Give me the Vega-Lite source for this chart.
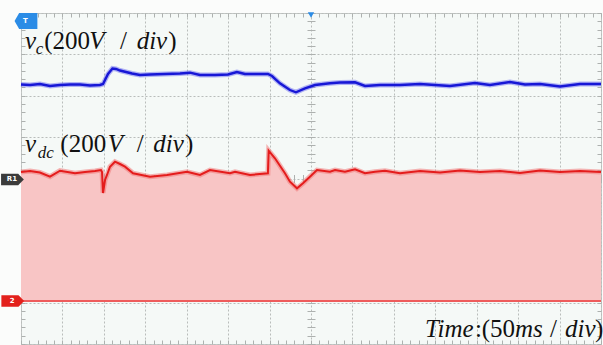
{
  "$schema": "https://vega.github.io/schema/vega-lite/v6.json",
  "width": 580,
  "height": 331,
  "autosize": "none",
  "padding": {"left": 21, "top": 13, "right": 2, "bottom": 1},
  "background": "#fbfcfb",
  "config": {
    "view": {"stroke": "#c4c8c6", "strokeWidth": 1, "fill": "#f5f9f7"},
    "axis": {"grid": false, "labels": false, "ticks": false, "domain": false, "title": null}
  },
  "datasets": {
    "vc": [
      {"t": 0, "v": 6.272}, {"t": 10.9, "v": 6.260}, {"t": 22.9, "v": 6.284}, {"t": 35.0, "v": 6.236},
      {"t": 47.1, "v": 6.260}, {"t": 59.1, "v": 6.272}, {"t": 71.2, "v": 6.272}, {"t": 83.3, "v": 6.248},
      {"t": 95.3, "v": 6.260}, {"t": 99.0, "v": 6.284}, {"t": 105.0, "v": 6.526}, {"t": 110.4, "v": 6.659},
      {"t": 114.7, "v": 6.647}, {"t": 119.5, "v": 6.610}, {"t": 125.5, "v": 6.581}, {"t": 134.0, "v": 6.538},
      {"t": 143.6, "v": 6.501}, {"t": 155.7, "v": 6.514}, {"t": 173.8, "v": 6.526}, {"t": 191.9, "v": 6.538},
      {"t": 204.0, "v": 6.557}, {"t": 216.0, "v": 6.501}, {"t": 234.1, "v": 6.501}, {"t": 249.8, "v": 6.514},
      {"t": 260.6, "v": 6.574}, {"t": 270.3, "v": 6.526}, {"t": 282.3, "v": 6.526}, {"t": 298.0, "v": 6.526},
      {"t": 302.9, "v": 6.477}, {"t": 312.5, "v": 6.301}, {"t": 324.6, "v": 6.139}, {"t": 331.8, "v": 6.083},
      {"t": 342.8, "v": 6.180}, {"t": 354.8, "v": 6.260}, {"t": 372.9, "v": 6.301}, {"t": 385.0, "v": 6.320},
      {"t": 403.1, "v": 6.325}, {"t": 415.2, "v": 6.236}, {"t": 433.3, "v": 6.260}, {"t": 457.4, "v": 6.260},
      {"t": 481.5, "v": 6.284}, {"t": 499.7, "v": 6.260}, {"t": 517.7, "v": 6.236}, {"t": 547.9, "v": 6.308},
      {"t": 566.0, "v": 6.260}, {"t": 590.2, "v": 6.332}, {"t": 608.3, "v": 6.272}, {"t": 626.4, "v": 6.284},
      {"t": 650.5, "v": 6.224}, {"t": 674.7, "v": 6.284}, {"t": 700, "v": 6.284}
    ],
    "vdc": [
      {"t": 0, "v": 4.157}, {"t": 10.9, "v": 4.181}, {"t": 22.9, "v": 4.145}, {"t": 35.0, "v": 4.044},
      {"t": 47.1, "v": 4.189}, {"t": 65.2, "v": 4.126}, {"t": 77.2, "v": 4.157}, {"t": 89.3, "v": 4.181},
      {"t": 96.5, "v": 4.205}, {"t": 97.8, "v": 4.157}, {"t": 99.0, "v": 3.650}, {"t": 101.4, "v": 3.964},
      {"t": 103.8, "v": 4.085}, {"t": 107.4, "v": 4.285}, {"t": 113.4, "v": 4.406}, {"t": 119.5, "v": 4.350},
      {"t": 125.5, "v": 4.285}, {"t": 135.2, "v": 4.126}, {"t": 155.7, "v": 4.044}, {"t": 176.2, "v": 4.085},
      {"t": 200.3, "v": 4.164}, {"t": 216.0, "v": 4.085}, {"t": 228.1, "v": 4.205}, {"t": 252.2, "v": 4.126},
      {"t": 258.3, "v": 4.164}, {"t": 276.4, "v": 4.085}, {"t": 298.0, "v": 4.126}, {"t": 298.9, "v": 4.672},
      {"t": 306.5, "v": 4.488}, {"t": 318.6, "v": 4.126}, {"t": 324.6, "v": 3.923}, {"t": 333.1, "v": 3.763},
      {"t": 340.3, "v": 3.884}, {"t": 348.7, "v": 4.044}, {"t": 357.2, "v": 4.205}, {"t": 372.9, "v": 4.164},
      {"t": 379.0, "v": 4.205}, {"t": 391.0, "v": 4.164}, {"t": 403.1, "v": 4.222}, {"t": 415.2, "v": 4.126},
      {"t": 427.2, "v": 4.164}, {"t": 439.3, "v": 4.189}, {"t": 457.4, "v": 4.126}, {"t": 481.5, "v": 4.181},
      {"t": 505.7, "v": 4.145}, {"t": 529.8, "v": 4.193}, {"t": 553.9, "v": 4.157}, {"t": 578.1, "v": 4.181},
      {"t": 602.2, "v": 4.133}, {"t": 626.4, "v": 4.193}, {"t": 650.5, "v": 4.157}, {"t": 674.7, "v": 4.181},
      {"t": 700, "v": 4.157}
    ]
  },
  "resolve": {"axis": {"x": "independent", "y": "independent"}},
  "layer": [
    {
      "data": {"name": "vdc"},
      "mark": {"type": "area", "color": "#f8c5c5", "opacity": 1},
      "encoding": {
        "x": {"field": "t", "type": "quantitative", "scale": {"domain": [0, 700], "nice": false, "zero": false},
          "axis": {"orient": "bottom", "grid": true, "gridColor": "#b9bdbb", "gridDash": [2, 2], "gridWidth": 1,
            "values": [0, 50, 100, 150, 200, 250, 300, 350, 400, 450, 500, 550, 600, 650, 700]}},
        "y": {"field": "v", "type": "quantitative", "scale": {"domain": [0, 8], "nice": false, "zero": false},
          "axis": {"orient": "left", "grid": true, "gridColor": "#b9bdbb", "gridDash": [2, 2], "gridWidth": 1,
            "values": [0, 1, 2, 3, 4, 5, 6, 7, 8]}},
        "y2": {"datum": 1.04}
      }
    },
    {
      "data": {"values": [{"level": 1.04}]},
      "mark": {"type": "rule", "color": "#ee5c5c", "strokeWidth": 2},
      "encoding": {
        "y": {"field": "level", "type": "quantitative", "axis": null}
      }
    },
    {
      "data": {"name": "vdc"},
      "mark": {"type": "line", "color": "#f07a7a", "strokeWidth": 5, "opacity": 0.55},
      "encoding": {
        "x": {"field": "t", "type": "quantitative", "axis": null},
        "y": {"field": "v", "type": "quantitative", "axis": null}
      }
    },
    {
      "data": {"name": "vdc"},
      "mark": {"type": "line", "color": "#e41c1c", "strokeWidth": 2},
      "encoding": {
        "x": {"field": "t", "type": "quantitative",
          "axis": {"orient": "bottom", "offset": -4, "ticks": true, "tickSize": 4, "tickColor": "#adb1af",
            "values": [0,10,20,30,40,50,60,70,80,90,100,110,120,130,140,150,160,170,180,190,200,210,220,230,240,250,260,270,280,290,300,310,320,330,340,350,360,370,380,390,400,410,420,430,440,450,460,470,480,490,500,510,520,530,540,550,560,570,580,590,600,610,620,630,640,650,660,670,680,690,700]}},
        "y": {"field": "v", "type": "quantitative",
          "axis": {"orient": "right", "offset": -4, "ticks": true, "tickSize": 4, "tickColor": "#adb1af",
            "values": [0,0.2,0.4,0.6,0.8,1,1.2,1.4,1.6,1.8,2,2.2,2.4,2.6,2.8,3,3.2,3.4,3.6,3.8,4,4.2,4.4,4.6,4.8,5,5.2,5.4,5.6,5.8,6,6.2,6.4,6.6,6.8,7,7.2,7.4,7.6,7.8,8]}}
      }
    },
    {
      "data": {"name": "vc"},
      "mark": {"type": "line", "color": "#6b6bf2", "strokeWidth": 5, "opacity": 0.5},
      "encoding": {
        "x": {"field": "t", "type": "quantitative", "axis": null},
        "y": {"field": "v", "type": "quantitative", "axis": null}
      }
    },
    {
      "data": {"name": "vc"},
      "mark": {"type": "line", "color": "#1717d6", "strokeWidth": 2.4},
      "encoding": {
        "x": {"field": "t", "type": "quantitative",
          "axis": {"orient": "top", "offset": -4, "ticks": true, "tickSize": 4, "tickColor": "#adb1af",
            "values": [0,10,20,30,40,50,60,70,80,90,100,110,120,130,140,150,160,170,180,190,200,210,220,230,240,250,260,270,280,290,300,310,320,330,340,350,360,370,380,390,400,410,420,430,440,450,460,470,480,490,500,510,520,530,540,550,560,570,580,590,600,610,620,630,640,650,660,670,680,690,700]}},
        "y": {"field": "v", "type": "quantitative",
          "axis": {"orient": "left", "offset": -4, "ticks": true, "tickSize": 4, "tickColor": "#adb1af",
            "values": [0,0.2,0.4,0.6,0.8,1,1.2,1.4,1.6,1.8,2,2.2,2.4,2.6,2.8,3,3.2,3.4,3.6,3.8,4,4.2,4.4,4.6,4.8,5,5.2,5.4,5.6,5.8,6,6.2,6.4,6.6,6.8,7,7.2,7.4,7.6,7.8,8]}}
      }
    },
    {
      "data": {"values": [
        {"s": "v", "t": 4.8, "v": 7.123}, {"s": "V", "t": 82.5, "v": 7.123}, {"s": "div", "t": 139.6, "v": 7.123},
        {"s": "v", "t": 4.8, "v": 4.648}, {"s": "V", "t": 104.6, "v": 4.648}, {"s": "div", "t": 159.7, "v": 4.648},
        {"s": "Time", "t": 487.6, "v": 0.177}, {"s": "ms", "t": 596.2, "v": 0.177}, {"s": "div", "t": 656.5, "v": 0.177}
      ]},
      "mark": {"type": "text", "font": "Liberation Serif", "fontStyle": "italic", "fontSize": 25, "align": "left", "baseline": "alphabetic", "color": "#111111"},
      "encoding": {
        "x": {"field": "t", "type": "quantitative",
          "axis": {"orient": "bottom", "offset": -169.5, "ticks": true, "tickSize": 8, "tickColor": "#adb1af",
            "values": [0,10,20,30,40,50,60,70,80,90,100,110,120,130,140,150,160,170,180,190,200,210,220,230,240,250,260,270,280,290,300,310,320,330,340,350,360,370,380,390,400,410,420,430,440,450,460,470,480,490,500,510,520,530,540,550,560,570,580,590,600,610,620,630,640,650,660,670,680,690,700]}},
        "y": {"field": "v", "type": "quantitative",
          "axis": {"orient": "left", "offset": -294, "ticks": true, "tickSize": 8, "tickColor": "#adb1af",
            "values": [0,0.2,0.4,0.6,0.8,1,1.2,1.4,1.6,1.8,2,2.2,2.4,2.6,2.8,3,3.2,3.4,3.6,3.8,4,4.2,4.4,4.6,4.8,5,5.2,5.4,5.6,5.8,6,6.2,6.4,6.6,6.8,7,7.2,7.4,7.6,7.8,8]}},
        "text": {"field": "s"}
      }
    },
    {
      "data": {"values": [
        {"s": "(200", "t": 28.1, "v": 7.123}, {"s": "/", "t": 119.5, "v": 7.123}, {"s": ")", "t": 177.8, "v": 7.123},
        {"s": "(200", "t": 47.5, "v": 4.648}, {"s": "/", "t": 139.6, "v": 4.648}, {"s": ")", "t": 197.9, "v": 4.648},
        {"s": ":", "t": 547.9, "v": 0.177}, {"s": "(50", "t": 556.0, "v": 0.177}, {"s": "/", "t": 638.4, "v": 0.177},
        {"s": ")", "t": 692.8, "v": 0.177}
      ]},
      "mark": {"type": "text", "font": "Liberation Serif", "fontSize": 25, "align": "left", "baseline": "alphabetic", "color": "#111111"},
      "encoding": {
        "x": {"field": "t", "type": "quantitative", "axis": null},
        "y": {"field": "v", "type": "quantitative", "axis": null},
        "text": {"field": "s"}
      }
    },
    {
      "data": {"values": [
        {"s": "c", "t": 17.7, "v": 6.997}, {"s": "dc", "t": 20.2, "v": 4.495}
      ]},
      "mark": {"type": "text", "font": "Liberation Serif", "fontStyle": "italic", "fontSize": 17, "align": "left", "baseline": "alphabetic", "color": "#111111"},
      "encoding": {
        "x": {"field": "t", "type": "quantitative", "axis": null},
        "y": {"field": "v", "type": "quantitative", "axis": null},
        "text": {"field": "s"}
      }
    },
    {
      "data": {"values": [
        {"m": "T", "t": 6.0, "v": 7.807}, {"m": "R1", "t": -10.3, "v": 3.976}, {"m": "2", "t": -9.9, "v": 1.039}
      ]},
      "mark": {"type": "point", "filled": true, "size": 520, "opacity": 1},
      "encoding": {
        "x": {"field": "t", "type": "quantitative", "axis": null},
        "y": {"field": "v", "type": "quantitative", "axis": null},
        "color": {"field": "m", "type": "nominal", "legend": null,
          "scale": {"domain": ["T", "R1", "2"], "range": ["#2b8ce6", "#3b3b3b", "#e3211c"]}},
        "shape": {"field": "m", "type": "nominal", "legend": null,
          "scale": {"domain": ["T", "R1", "2"], "range": [
            "M-1,0L-0.6,-0.7L1,-0.7L1,0.7L-0.6,0.7Z",
            "M-1,-0.5L0.5,-0.5L1,0L0.5,0.5L-1,0.5Z",
            "M-1,-0.5L0.5,-0.5L1,0L0.5,0.5L-1,0.5Z"]}}
      }
    },
    {
      "data": {"values": [
        {"m": "T", "t": 6.0, "v": 7.807}, {"m": "R1", "t": -10.3, "v": 3.976}, {"m": "2", "t": -9.9, "v": 1.039}
      ]},
      "mark": {"type": "text", "font": "DejaVu Sans", "fontSize": 7, "fontWeight": "bold", "color": "#ffffff", "align": "center", "baseline": "middle", "dx": -0.5},
      "encoding": {
        "x": {"field": "t", "type": "quantitative", "axis": null},
        "y": {"field": "v", "type": "quantitative", "axis": null},
        "text": {"field": "m"}
      }
    },
    {
      "data": {"values": [{"t": 350, "v": 8}]},
      "mark": {"type": "point", "shape": "triangle-down", "filled": true, "size": 40, "color": "#2b8ce6", "opacity": 1, "yOffset": 2},
      "encoding": {
        "x": {"field": "t", "type": "quantitative", "axis": null},
        "y": {"field": "v", "type": "quantitative", "axis": null}
      }
    }
  ]
}
